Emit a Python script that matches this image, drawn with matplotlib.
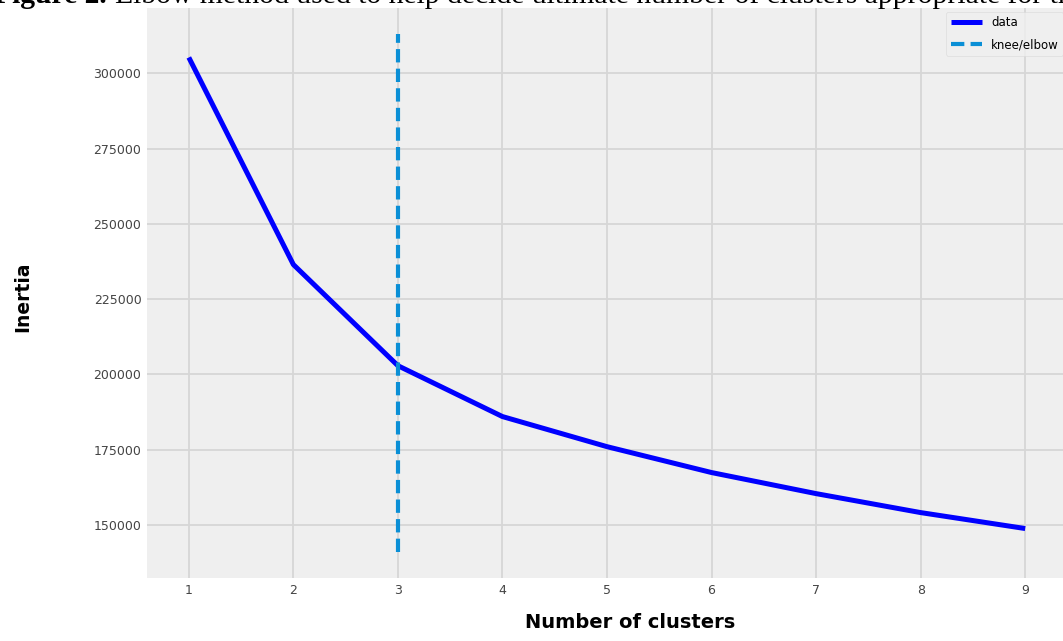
import numpy as np
import matplotlib.pyplot as plt

clusters = [1, 2, 3, 4, 5, 6, 7, 8, 9]
inertia = [305300, 236500, 202900, 186000, 176000, 167400, 160400, 154100, 148800]
knee = 3

plt.style.use('fivethirtyeight')
fig = plt.figure(figsize=(10.63, 6.41), dpi=100, facecolor='white')
ax = fig.add_axes([147 / 1063, 63 / 641, 920 / 1063, 570 / 641])
ax.set_facecolor('#efefef')

ax.plot(clusters, inertia, color='blue', lw=3.6, label='data')
lo, hi = ax.get_ylim()
ax.vlines(knee, lo, hi, colors='#0a8fd6', lw=3, linestyles=(0, (3.2, 1.5)),
          label='knee/elbow')

ax.grid(True, color='#d6d6d6', lw=1.3)
ax.tick_params(labelsize=9, labelcolor='#444444', length=0, pad=4)
for s in ax.spines.values():
    s.set_visible(False)

ax.set_xlabel('Number of clusters', fontsize=14, fontweight='bold', color='black')
ax.xaxis.set_label_coords(0.525, -0.061)
ax.set_ylabel('Inertia', fontsize=13.5, fontweight='bold', color='black')
ax.yaxis.set_label_coords(-0.125, 0.494)

ax.legend(loc='upper right', fontsize=8.5, frameon=True, facecolor='#efefef',
          edgecolor='#d8d8d8', borderaxespad=0.3, labelspacing=0.75,
          handlelength=2.6)

# caption of the paper, cut by the screenshot
fig.text(-6 / 1063, 1 - 3 / 641, 'Figure 2.', fontsize=21.3, fontweight='bold',
         family='Liberation Serif', va='baseline')
fig.text(115 / 1063, 1 - 3 / 641,
         'Elbow method used to help decide ultimate number of clusters appropriate for this study',
         fontsize=21.3, family='Liberation Serif', va='baseline')

fig.savefig('out.png', dpi=100, facecolor='white')
